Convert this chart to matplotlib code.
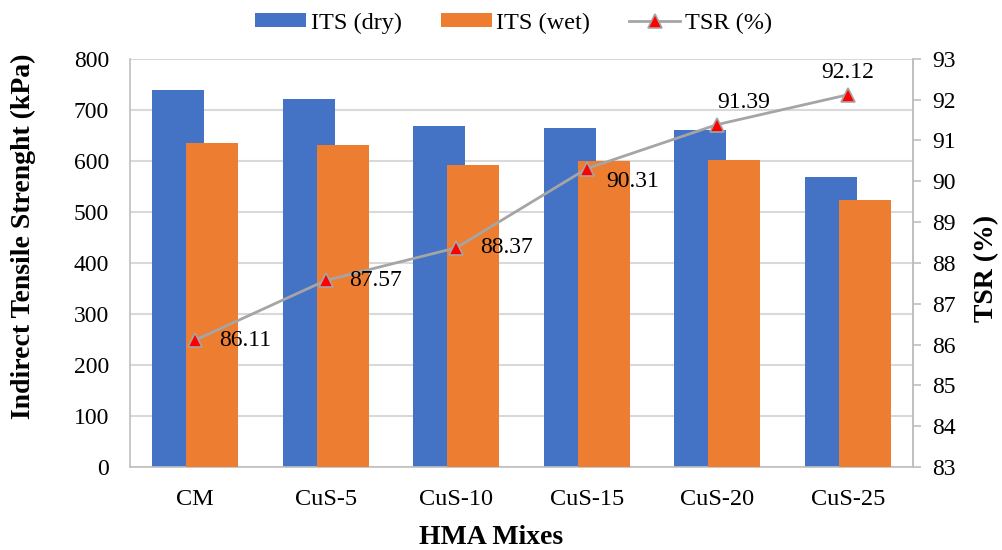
import matplotlib.pyplot as plt
import numpy as np

plt.rcParams['font.family'] = ['Liberation Serif', 'DejaVu Serif']

# mixes and measured values
mixes = ["CM", "CuS-5", "CuS-10", "CuS-15", "CuS-20", "CuS-25"]
its_dry = [739, 722, 669, 664, 661, 569]
its_wet = [635, 631, 592, 600, 602, 524]
tsr = [86.11, 87.57, 88.37, 90.31, 91.39, 92.12]

blue = "#4472c4"
orange = "#ed7d31"
gray = "#a5a5a5"

fig = plt.figure(figsize=(10.03, 5.5), dpi=100)
ax = fig.add_axes([0.1296, 0.151, 0.7807, 0.742])

x = np.arange(len(mixes))
w = 0.4
off = 0.13
ax.bar(x - off, its_dry, w, color=blue, label="ITS (dry)", zorder=2)
ax.bar(x + off, its_wet, w, color=orange, label="ITS (wet)", zorder=3)

ax.set_xlim(-0.5, len(mixes) - 0.5)
ax.set_ylim(0, 800)
ax.set_yticks(range(0, 801, 100))
ax.set_xticks(x)
ax.set_xticklabels(mixes)
ax.grid(axis='y', color='#d9d9d9', linewidth=1.5, zorder=0)
ax.set_axisbelow(True)
ax.spines['top'].set_visible(False)
for s in ['left', 'bottom', 'right']:
    ax.spines[s].set_color('#bfbfbf')
    ax.spines[s].set_linewidth(1.2)
ax.tick_params(axis='y', length=0, labelsize=17, pad=15)
ax.tick_params(axis='x', length=0, labelsize=17.5, pad=16)

fig.text(491 / 1003, 1 - 538 / 550, "HMA Mixes", fontsize=20, fontweight='bold',
         ha='center', va='center')
fig.text(23 / 1003, 0.57, "Indirect Tensile Strenght (kPa)", rotation=90, fontsize=20,
         fontweight='bold', ha='center', va='center')

# TSR on secondary axis
ax2 = ax.twinx()
ax2.set_ylim(83, 93)
ax2.set_yticks(range(83, 94))
ln, = ax2.plot(x, tsr, color=gray, linewidth=2, marker='^', markersize=9.5,
               markerfacecolor='red', markeredgecolor=gray, markeredgewidth=1.2,
               label="TSR (%)", zorder=5)
for s in ['top', 'left', 'bottom']:
    ax2.spines[s].set_visible(False)
ax2.spines['right'].set_color('#bfbfbf')
ax2.spines['right'].set_linewidth(1.2)
ax2.tick_params(axis='y', length=6, width=1.2, color='#bfbfbf', labelsize=17, pad=8)
fig.text(0.984, 0.512, "TSR (%)", rotation=90, fontsize=20, fontweight='bold',
         ha='center', va='center')

# value labels: (dx, dy, ha) in points
offsets = [(17, 0, 'left'), (17, 0, 'left'), (17, 0, 'left'),
           (14, -9, 'left'), (0, 16, 'left'), (0, 16, 'center')]
for i, v in enumerate(tsr):
    dx, dy, ha = offsets[i]
    ax2.annotate(f"{v:.2f}", (x[i], v), xytext=(dx, dy), textcoords='offset points',
                 ha=ha, va='center', fontsize=17, zorder=6)

h1, l1 = ax.get_legend_handles_labels()
fig.legend(h1 + [ln], l1 + ["TSR (%)"], loc='center', bbox_to_anchor=(0.512, 0.958),
           ncol=3, frameon=False, fontsize=17.5, handlelength=2.1, handleheight=0.5,
           handletextpad=0.2, columnspacing=1.6)

fig.savefig("out.png", dpi=100)
